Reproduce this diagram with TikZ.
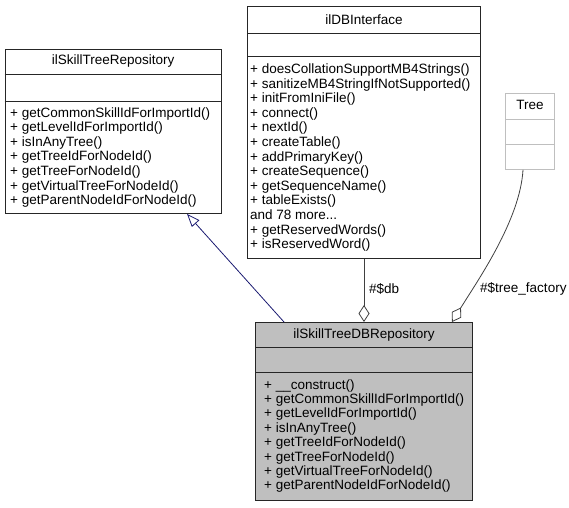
\documentclass[tikz,border=0pt]{standalone}
\usepackage{fontspec}
\setmainfont{Liberation Sans}
\usetikzlibrary{arrows.meta}
\definecolor{edgeblue}{RGB}{25,25,112}
\definecolor{edgegrey}{RGB}{64,64,64}
\definecolor{boxgrey}{RGB}{191,191,191}
\definecolor{lightborder}{RGB}{191,191,191}
\newcommand{\myandmore}{and 78 more...}
\begin{document}
\begin{tikzpicture}[x=1pt,y=-1pt,
  box/.style={draw=black!85, line width=0.9pt, inner sep=0pt, anchor=north west},
  lightbox/.style={draw=lightborder, line width=0.9pt, inner sep=0pt, anchor=north west},
  divider/.style={draw=black!85, line width=0.9pt},
  lightdivider/.style={draw=lightborder, line width=0.9pt},
  txt/.style={inner sep=0pt, font=\fontsize{13.5}{14.5}\selectfont},
  meth/.style={txt, anchor=base west},
  inherit/.style={draw=edgeblue, line width=0.8pt, -{Triangle[open, length=13pt, width=10pt]}},
  aggr/.style={draw=edgegrey, line width=0.8pt, -{Diamond[open, length=17pt, width=11pt]}},
  elabel/.style={txt, anchor=west}]
\useasboundingbox (0,0) rectangle (569,507);

% ilSkillTreeRepository
\node[box, minimum width=216.5pt, minimum height=164pt] (A) at (4.5,49) {};
\draw[divider] (A.west |- 0,74) -- (A.east |- 0,74);
\draw[divider] (A.west |- 0,101) -- (A.east |- 0,101);
\node[txt, anchor=base] (At) at (A.north |- 0,64.5) {ilSkillTreeRepository};
\foreach \t [count=\i] in {{+ getCommonSkillIdForImportId()}, {+ getLevelIdForImportId()}, {+ isInAnyTree()}, {+ getTreeIdForNodeId()}, {+ getTreeForNodeId()}, {+ getVirtualTreeForNodeId()}, {+ getParentNodeIdForNodeId()}}
  \node[meth] (A-\i) at (10, 117 + \i*14.6 - 14.6) {\t};

% ilDBInterface
\node[box, minimum width=233pt, minimum height=252pt] (B) at (247,6) {};
\draw[divider] (B.west |- 0,33) -- (B.east |- 0,33);
\draw[divider] (B.west |- 0,56) -- (B.east |- 0,56);
\node[txt, anchor=base] (Bt) at (B.north |- 0,24.5) {ilDBInterface};
\foreach \t [count=\i] in {{+ doesCollationSupportMB4Strings()}, {+ sanitizeMB4StringIfNotSupported()}, {+ initFromIniFile()}, {+ connect()}, {+ nextId()}, {+ createTable()}, {+ addPrimaryKey()}, {+ createSequence()}, {+ getSequenceName()}, {+ tableExists()}, {\myandmore}, {+ getReservedWords()}, {+ isReservedWord()}}
  \node[meth] (B-\i) at (250, 73.5 + \i*14.6 - 14.6) {\t};

% Tree
\node[lightbox, minimum width=49pt, minimum height=76pt] (C) at (505,93) {};
\draw[lightdivider] (C.west |- 0,119) -- (C.east |- 0,119);
\draw[lightdivider] (C.west |- 0,144) -- (C.east |- 0,144);
\node[txt, anchor=base] (Ct) at (C.north |- 0,109.5) {Tree};

% ilSkillTreeDBRepository
\node[box, fill=boxgrey, minimum width=217pt, minimum height=178pt] (D) at (255,322) {};
\draw[divider] (D.west |- 0,347) -- (D.east |- 0,347);
\draw[divider] (D.west |- 0,372) -- (D.east |- 0,372);
\node[txt, anchor=base] (Dt) at (D.north |- 0,338.5) {ilSkillTreeDBRepository};
\foreach \t [count=\i] in {{+ \_\_construct()}, {+ getCommonSkillIdForImportId()}, {+ getLevelIdForImportId()}, {+ isInAnyTree()}, {+ getTreeIdForNodeId()}, {+ getTreeForNodeId()}, {+ getVirtualTreeForNodeId()}, {+ getParentNodeIdForNodeId()}}
  \node[meth] (D-\i) at (264, 389 + \i*14.4 - 14.4) {\t};

% edges
\draw[inherit] (D.north -| 284,0) -- (A.south -| 187,0);
\draw[aggr] (B.south -| 364,0) -- (D.north -| 364,0);
\draw[aggr] (C.south -| 523,0) .. controls (520,220) and (478,280) .. (D.north -| 452,0);
\node[elabel] (Ldb) at (369,289) {\#\$db};
\node[elabel] (Ltree) at (480,289) {\#\$tree\_factory};
\end{tikzpicture}
\end{document}
